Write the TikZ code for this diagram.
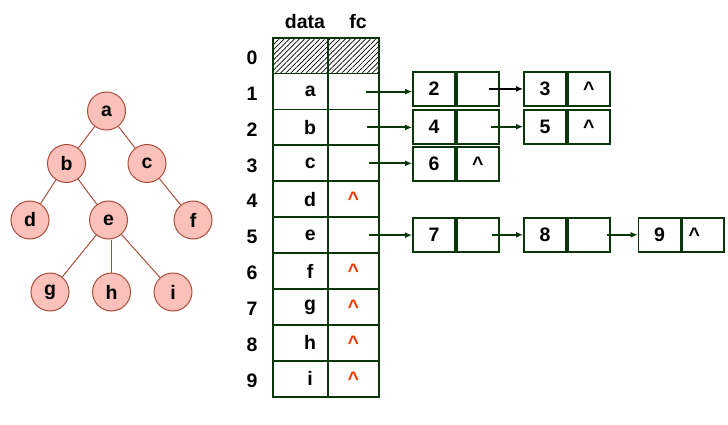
\documentclass[tikz,border=0pt]{standalone}
\usepackage{fontspec}
\setmainfont{Liberation Sans}
\usetikzlibrary{patterns.meta,arrows.meta}
\definecolor{gr}{RGB}{10,55,10}
\definecolor{caretred}{RGB}{255,51,0}
\definecolor{pinkfill}{RGB}{250,192,186}
\definecolor{pinkline}{RGB}{170,78,60}
\begin{document}
\begin{tikzpicture}[x=1pt,y=-1pt,
  txt/.style={font=\fontsize{19.5}{22}\selectfont\bfseries},
  cell/.style={draw=gr,line width=1.8pt,minimum width=55pt,minimum height=35.9pt,inner sep=0pt,txt},
  fccell/.style={cell,minimum width=51pt},
  lcell/.style={draw=gr,line width=1.8pt,minimum width=42pt,minimum height=34pt,inner sep=0pt,txt},
  tnode/.style={circle,draw=pinkline,fill=pinkfill,line width=1pt,minimum size=38pt,inner sep=0pt,txt},
  tedge/.style={draw=pinkline,line width=1pt},
  arr/.style={draw=gr,line width=2pt,-{Latex[length=7pt,width=6pt]}},
  nul/.style={text=caretred},
  hatch/.style={pattern={Lines[angle=45,distance=3.6pt,line width=0.7pt]}}
]
\useasboundingbox (0,0) rectangle (728,425);
% tree
\node[tnode] (a) at (106.5,111) {a};
\node[tnode] (b) at (66.5,163.5) {b};
\node[tnode] (c) at (147,163.5) {c};
\node[tnode] (d) at (30,220) {d};
\node[tnode] (e) at (108.5,220) {e};
\node[tnode] (f) at (193,220) {f};
\node[tnode] (g) at (50,292) {g};
\node[tnode] (h) at (111.5,292) {h};
\node[tnode] (i) at (173,292) {i};
\draw[tedge] (a) -- (b);
\draw[tedge] (a) -- (c);
\draw[tedge] (b) -- (d);
\draw[tedge] (b) -- (e);
\draw[tedge] (c) -- (f);
\draw[tedge] (e) -- (g);
\draw[tedge] (e.south -| h) -- (h);
\draw[tedge] (e) -- (i);
% headers
\node[txt] (hd) at (305,22) {data};
\node[txt] (hf) at (358,22) {fc};
% table
\node[cell,hatch] (d0) at (300.2,55.65) {};
\node[fccell,hatch] (f0) at (353.2,55.65) {};
\node[txt] (r0) at (252,58) {0};
\foreach \k/\y/\lab/\fc in {1/91.55/a/,2/127.45/b/,3/163.35/c/,4/199.25/d/\textasciicircum,5/235.15/e/,6/271.05/f/\textasciicircum,7/306.95/g/\textasciicircum,8/342.85/h/\textasciicircum,9/378.75/i/\textasciicircum}{
  \node[cell] (d\k) at (300.2,\y) {\hspace*{20pt}\lab};
  \node[fccell,nul] (f\k) at (353.2,\y) {\fc};
  \node[txt] (r\k) at (252,\y+2) {\k};
}
% linked lists
\node[lcell] (v2) at (434,88.9) {2};
\node[lcell,anchor=west] (p2) at (v2.east) {};
\node[lcell] (v3) at (545,88.9) {3};
\node[lcell,anchor=west] (p3) at (v3.east) {\textasciicircum};
\node[lcell] (v4) at (434,126.7) {4};
\node[lcell,anchor=west] (p4) at (v4.east) {};
\node[lcell] (v5) at (545,126.7) {5};
\node[lcell,anchor=west] (p5) at (v5.east) {\textasciicircum};
\node[lcell] (v6) at (434,164) {6};
\node[lcell,anchor=west] (p6) at (v6.east) {\textasciicircum};
\node[lcell] (v7) at (434,234.8) {7};
\node[lcell,anchor=west] (p7) at (v7.east) {};
\node[lcell] (v8) at (545,234.8) {8};
\node[lcell,anchor=west] (p8) at (v8.east) {};
\node[lcell] (v9) at (659.5,234.8) {9};
\node[lcell,anchor=west] (p9) at (v9.east) {\hspace*{-18pt}\textasciicircum};
% arrows
\draw[arr] ([xshift=13pt]f1.center) -- (f1.center -| v2.west);
\draw[arr] ([xshift=14pt]f2.center) -- (f2.center -| v4.west);
\draw[arr] ([xshift=16pt]f3.center) -- (f3.center -| v6.west);
\draw[arr] ([xshift=16pt]f5.center) -- (f5.center -| v7.west);
\draw[arr,draw=black] ([xshift=11pt]p2.center) -- (v3.west);
\draw[arr] ([xshift=13pt]p4.center) -- (v5.west);
\draw[arr] ([xshift=14pt]p7.center) -- (v8.west);
\draw[arr] ([xshift=18pt]p8.center) -- (v9.west);
\end{tikzpicture}
\end{document}
